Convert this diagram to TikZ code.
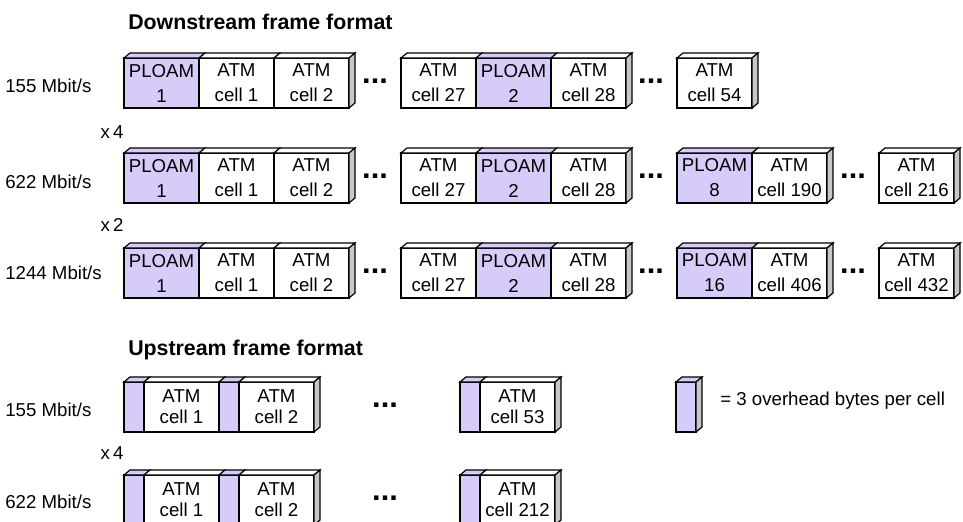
\documentclass[tikz,border=0pt]{standalone}
\usepackage{fontspec}
\setmainfont{Liberation Sans}
\usetikzlibrary{positioning}

\definecolor{ploamviolet}{RGB}{215,203,250}
\definecolor{sidegray}{RGB}{200,200,200}

\tikzstyle{cell} = [draw, fill=white, align=center, inner sep=0pt, outer sep=0pt, minimum height=37.5pt, minimum width=56.25pt, line width=0.9pt, font=\fontsize{14}{18.75}\selectfont]
\tikzstyle{ploam} = [cell, fill=ploamviolet]
\tikzstyle{upcell} = [cell, font=\fontsize{14}{15.75}\selectfont]
\tikzstyle{hdr} = [cell, fill=ploamviolet, minimum width=15pt]
\tikzstyle{rate} = [anchor=base west, inner sep=0pt, font=\fontsize{14}{16}\selectfont]
\tikzstyle{times} = [inner sep=0pt, font=\fontsize{14}{16}\selectfont]
\tikzstyle{gap} = [anchor=base, inner sep=0pt, font=\bfseries\fontsize{23}{23}\selectfont]
\tikzstyle{heading} = [anchor=base west, inner sep=0pt, font=\bfseries\fontsize{16}{18}\selectfont]

% top and right faces of a cell
\newcommand{\celltop}[2][white]{\draw[line width=0.9pt, fill=#1] (#2.north west) -- ++(6,-5) -- ([shift={(6,-5)}]#2.north east) -- (#2.north east) -- cycle;}
\newcommand{\cellside}[1]{\draw[line width=0.9pt, fill=sidegray] (#1.north east) -- ++(6,-5) -- ([shift={(6,-5)}]#1.south east) -- (#1.south east) -- cycle;}

\begin{document}
\begin{tikzpicture}[x=0.75pt, y=-0.75pt]
	\useasboundingbox (0,0) rectangle (963,521);

	\node [heading] (down) at (128,29.5) {Downstream frame format};
	\node [heading] (up) at (128,355) {Upstream frame format};

	\node [rate] (da) at (5,92) {155 Mbit/s};
	\node [rate] (db) at (5,188) {622 Mbit/s};
	\node [rate] (dc) at (5,279) {1244 Mbit/s};
	\node [rate] (ua) at (5,416) {155 Mbit/s};
	\node [rate] (ub) at (5,508) {622 Mbit/s};

	\node [times] (x4) at (112,132) {x\,4};
	\node [times] (x2) at (112,225) {x\,2};
	\node [times] (ux4) at (112,453) {x\,4};

	% 155 Mbit/s downstream
	\node [ploam, anchor=west] (da1) at (124,83) {PLOAM\\1};
	\node [cell, right=0pt of da1] (da2) {ATM\\cell 1};
	\node [cell, right=0pt of da2] (da3) {ATM\\cell 2};
	\node [gap] (dag1) at (375,83) {...};
	\node [cell, anchor=west] (da4) at (401,83) {ATM\\cell 27};
	\node [ploam, right=0pt of da4] (da5) {PLOAM\\2};
	\node [cell, right=0pt of da5] (da6) {ATM\\cell 28};
	\node [gap] (dag2) at (651,83) {...};
	\node [cell, anchor=west] (da7) at (677,83) {ATM\\cell 54};
	\celltop[ploamviolet]{da1} \celltop{da2} \celltop{da3} \cellside{da3}
	\celltop{da4} \celltop[ploamviolet]{da5} \celltop{da6} \cellside{da6}
	\celltop{da7} \cellside{da7}

	% 622 Mbit/s downstream
	\node [ploam, anchor=west] (db1) at (124,178) {PLOAM\\1};
	\node [cell, right=0pt of db1] (db2) {ATM\\cell 1};
	\node [cell, right=0pt of db2] (db3) {ATM\\cell 2};
	\node [gap] (dbg1) at (375,178) {...};
	\node [cell, anchor=west] (db4) at (401,178) {ATM\\cell 27};
	\node [ploam, right=0pt of db4] (db5) {PLOAM\\2};
	\node [cell, right=0pt of db5] (db6) {ATM\\cell 28};
	\node [gap] (dbg2) at (651,178) {...};
	\node [ploam, anchor=west] (db7) at (677,178) {PLOAM\\8};
	\node [cell, right=0pt of db7] (db8) {ATM\\cell 190};
	\node [gap] (dbg3) at (853,178) {...};
	\node [cell, anchor=west] (db9) at (879,178) {ATM\\cell 216};
	\celltop[ploamviolet]{db1} \celltop{db2} \celltop{db3} \cellside{db3}
	\celltop{db4} \celltop[ploamviolet]{db5} \celltop{db6} \cellside{db6}
	\celltop[ploamviolet]{db7} \celltop{db8} \cellside{db8}
	\celltop{db9} \cellside{db9}

	% 1244 Mbit/s downstream
	\node [ploam, anchor=west] (dc1) at (124,273) {PLOAM\\1};
	\node [cell, right=0pt of dc1] (dc2) {ATM\\cell 1};
	\node [cell, right=0pt of dc2] (dc3) {ATM\\cell 2};
	\node [gap] (dcg1) at (375,273) {...};
	\node [cell, anchor=west] (dc4) at (401,273) {ATM\\cell 27};
	\node [ploam, right=0pt of dc4] (dc5) {PLOAM\\2};
	\node [cell, right=0pt of dc5] (dc6) {ATM\\cell 28};
	\node [gap] (dcg2) at (651,273) {...};
	\node [ploam, anchor=west] (dc7) at (677,273) {PLOAM\\16};
	\node [cell, right=0pt of dc7] (dc8) {ATM\\cell 406};
	\node [gap] (dcg3) at (853,273) {...};
	\node [cell, anchor=west] (dc9) at (879,273) {ATM\\cell 432};
	\celltop[ploamviolet]{dc1} \celltop{dc2} \celltop{dc3} \cellside{dc3}
	\celltop{dc4} \celltop[ploamviolet]{dc5} \celltop{dc6} \cellside{dc6}
	\celltop[ploamviolet]{dc7} \celltop{dc8} \cellside{dc8}
	\celltop{dc9} \cellside{dc9}

	% 155 Mbit/s upstream
	\node [hdr, anchor=west] (ua1) at (124,407) {};
	\node [upcell, right=0pt of ua1] (ua2) {ATM\\cell 1};
	\node [hdr, right=0pt of ua2] (ua3) {};
	\node [upcell, right=0pt of ua3] (ua4) {ATM\\cell 2};
	\node [gap] (uag1) at (385,407) {...};
	\node [hdr, anchor=west] (ua5) at (460,407) {};
	\node [upcell, right=0pt of ua5] (ua6) {ATM\\cell 53};
	\celltop[ploamviolet]{ua1} \celltop{ua2} \celltop[ploamviolet]{ua3} \celltop{ua4} \cellside{ua4}
	\celltop[ploamviolet]{ua5} \celltop{ua6} \cellside{ua6}

	% legend
	\node [hdr, anchor=west] (key) at (676,407) {};
	\celltop[ploamviolet]{key} \cellside{key}
	\node [rate] (keytext) at (720,405) {= 3 overhead bytes per cell};

	% 622 Mbit/s upstream
	\node [hdr, anchor=west] (ub1) at (124,500) {};
	\node [upcell, right=0pt of ub1] (ub2) {ATM\\cell 1};
	\node [hdr, right=0pt of ub2] (ub3) {};
	\node [upcell, right=0pt of ub3] (ub4) {ATM\\cell 2};
	\node [gap] (ubg1) at (385,500) {...};
	\node [hdr, anchor=west] (ub5) at (460,500) {};
	\node [upcell, right=0pt of ub5] (ub6) {ATM\\cell 212};
	\celltop[ploamviolet]{ub1} \celltop{ub2} \celltop[ploamviolet]{ub3} \celltop{ub4} \cellside{ub4}
	\celltop[ploamviolet]{ub5} \celltop{ub6} \cellside{ub6}
\end{tikzpicture}
\end{document}
